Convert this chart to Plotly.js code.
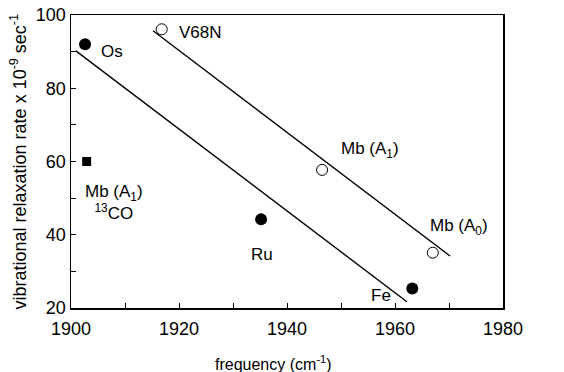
<!DOCTYPE html>
<html>
<head>
<meta charset="utf-8">
<script src="https://cdn.plot.ly/plotly-3.0.1.min.js"></script>
<style>html,body{margin:0;padding:0;background:#fff;}#chart{width:564px;height:372px;}</style>
</head>
<body>
<div id="chart"></div>
<script>
// Filled circles (metal-substituted)
const filledNames = ["Os", "Ru", "Fe"];
const filledX = [1902.6, 1935.2, 1963.2];
const filledY = [92, 44.2, 25.3];
// Open circles (Mb mutants / substates)
const openNames = ["V68N", "Mb (A1)", "Mb (A0)"];
const openX = [1916.8, 1946.5, 1967];
const openY = [96.1, 57.7, 35.1];
// Filled square (13CO)
const squareX = [1902.9];
const squareY = [60];
// Fit lines (endpoints)
const fitLowerX = [1900.9, 1962.2];
const fitLowerY = [90.2, 21.7];
const fitUpperX = [1915.2, 1970.2];
const fitUpperY = [95.7, 34.2];
// Axis ticks
const xTicks = [1900, 1920, 1940, 1960, 1980];
const yTicks = [20, 40, 60, 80, 100];
// Point labels
const labelText = ["Os", "V68N", "Mb (A<sub>1</sub>)", "Mb (A<sub>0</sub>)", "Mb (A<sub>1</sub>)<br><sup>13</sup>CO", "Ru", "Fe"];
const labelX = [1907.6, 1923.9, 1955.3, 1971.9, 1908, 1935.4, 1957.4];
const labelY = [89.9, 95.1, 63.1, 42.1, 48.9, 34.7, 23.3];

const font = "Arial, 'Liberation Sans', sans-serif";
const traces = [
  {x: fitLowerX, y: fitLowerY, mode: "lines", line: {color: "#000", width: 1.4}, hoverinfo: "skip"},
  {x: fitUpperX, y: fitUpperY, mode: "lines", line: {color: "#000", width: 1.4}, hoverinfo: "skip"},
  {x: filledX, y: filledY, text: filledNames, mode: "markers", marker: {symbol: "circle", size: 12, color: "#000"}},
  {x: openX, y: openY, text: openNames, mode: "markers", marker: {symbol: "circle", size: 11, color: "#fff", line: {color: "#000", width: 1}}},
  {x: squareX, y: squareY, mode: "markers", marker: {symbol: "square", size: 9, color: "#000"}}
];
const annotations = labelText.map((t, i) => ({
  x: labelX[i], y: labelY[i], xref: "x", yref: "y", text: t, showarrow: false,
  font: {family: font, size: 17, color: "#000"}, align: "center"
}));
annotations.push({
  x: 0.4676, y: -0.1877, xref: "paper", yref: "paper", showarrow: false,
  xanchor: "center", yanchor: "middle",
  text: "frequency (cm<sup>-1</sup>)", font: {family: font, size: 16, color: "#000"}
});
annotations.push({
  x: -0.1204, y: 0.5, xref: "paper", yref: "paper", showarrow: false, textangle: -90,
  xanchor: "center", yanchor: "middle",
  text: "vibrational relaxation rate x 10<sup>-9</sup> sec<sup>-1</sup>", font: {family: font, size: 18, color: "#000"}
});
const layout = {
  width: 564, height: 372,
  margin: {l: 71, r: 61, t: 15, b: 64},
  paper_bgcolor: "#fff", plot_bgcolor: "#fff",
  showlegend: false,
  font: {family: font, size: 18, color: "#000"},
  xaxis: {
    range: [1900, 1980], tickvals: xTicks, ticks: "inside", ticklen: 5, tickcolor: "#000",
    ticklabelstandoff: 4,
    minor: {dtick: 10, ticks: "inside", ticklen: 5, tickcolor: "#000"},
    showline: true, linecolor: "#000", linewidth: 1.5, mirror: true, showgrid: false, zeroline: false
  },
  yaxis: {
    range: [20, 100], tickvals: yTicks, ticks: "inside", ticklen: 5, tickcolor: "#000",
    minor: {dtick: 10, ticks: "inside", ticklen: 5, tickcolor: "#000"},
    showline: true, linecolor: "#000", linewidth: 1.5, mirror: true, showgrid: false, zeroline: false
  },
  annotations: annotations
};
Plotly.newPlot("chart", traces, layout, {displayModeBar: false, staticPlot: true});
</script>
</body>
</html>
